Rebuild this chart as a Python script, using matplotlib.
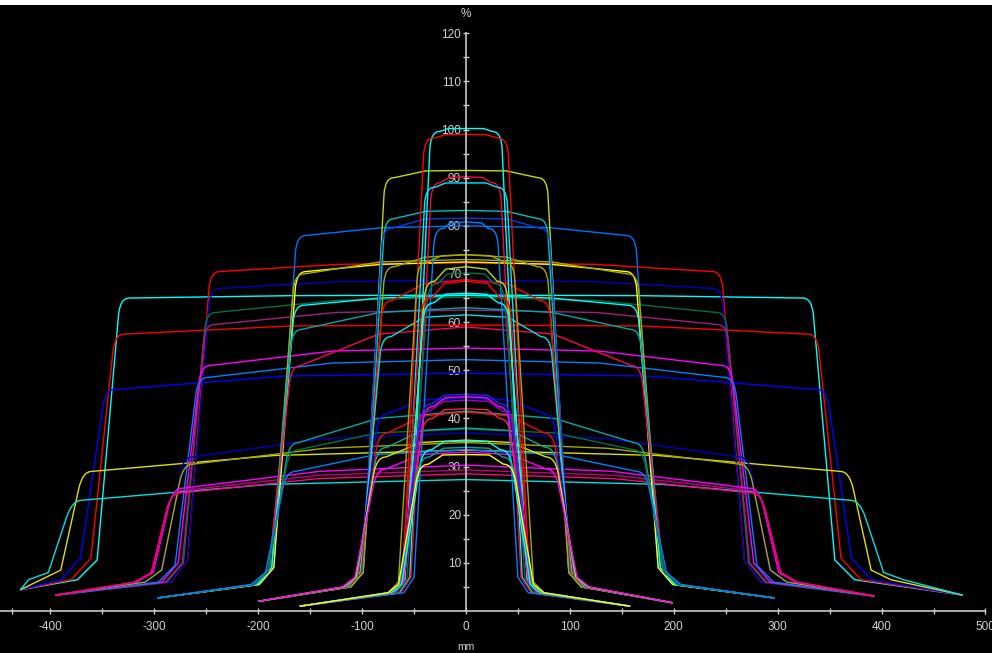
import matplotlib
matplotlib.use("Agg")
import matplotlib.pyplot as plt
from matplotlib.path import Path
from matplotlib.patches import PathPatch, Rectangle

plt.rcParams['axes.unicode_minus'] = False

# one row per profile:
# colour, centre %, % at half the corner width, % just inside the corner,
# corner half-width (mm), knee half-width (mm), knee %
field_a = [
    ("#00ffff", 100.2, 100.2, 99.6, 34, 54, 7.0),
    ("#ff0000", 99.0, 98.9, 98.2, 40, 61, 6.5),
    ("#ff0040", 90.2, 90.0, 89.0, 33, 53, 7.0),
    ("#00e8ff", 88.9, 88.9, 88.0, 39, 59, 6.5),
    ("#0080ff", 80.8, 80.6, 79.5, 30, 50, 7.0),
    ("#a8a800", 74.0, 73.8, 72.5, 46, 65, 6.0),
    ("#b0e000", 71.5, 71.0, 68.5, 39, 59, 6.5),
    ("#007040", 70.2, 70.0, 68.0, 36, 57, 6.5),
    ("#ff0000", 68.5, 68.0, 65.0, 42, 62, 6.5),
    ("#00ffff", 66.0, 65.8, 64.0, 40, 60, 6.5),
    ("#2020ff", 45.0, 44.8, 43.0, 42, 62, 6.0),
    ("#ff00ff", 44.5, 44.3, 42.5, 40, 60, 6.0),
    ("#a000c0", 43.8, 43.5, 41.5, 44, 63, 6.0),
    ("#ff2040", 42.0, 41.8, 40.0, 41, 61, 6.0),
    ("#00ffff", 35.3, 35.2, 33.5, 42, 62, 5.5),
    ("#00a8a8", 34.0, 33.8, 32.0, 44, 64, 5.5),
    ("#ffff00", 32.5, 32.4, 30.5, 45, 65, 5.5),
]

field_b = [
    ("#c8d800", 91.5, 91.4, 90.0, 78, 99, 8.0),
    ("#00c0c0", 83.2, 83.0, 81.5, 78, 99, 8.0),
    ("#0040e0", 81.6, 81.4, 79.5, 80, 100, 8.0),
    ("#a8a800", 74.0, 73.5, 71.5, 78, 99, 8.0),
    ("#ff0000", 68.8, 68.0, 64.5, 80, 101, 8.0),
    ("#00e0e0", 61.5, 61.0, 57.0, 81, 102, 8.0),
    ("#0000ff", 44.3, 43.8, 41.0, 84, 104, 7.5),
    ("#ff0000", 41.3, 40.5, 37.0, 84, 104, 7.5),
    ("#00a8a8", 38.0, 37.5, 34.0, 85, 105, 7.0),
    ("#e0e000", 35.5, 35.0, 32.0, 86, 106, 7.0),
    ("#ff00ff", 33.0, 32.5, 29.5, 86, 107, 7.0),
]

field_c = [
    ("#0070ff", 80.0, 79.6, 78.0, 163, 185, 9.0),
    ("#ffff00", 72.5, 72.0, 70.5, 163, 185, 9.0),
    ("#a8a800", 73.0, 72.5, 70.0, 165, 187, 9.0),
    ("#00ffff", 65.6, 65.0, 63.5, 165, 187, 9.0),
    ("#00a8a8", 63.0, 62.0, 58.5, 167, 189, 9.0),
    ("#ff0050", 59.0, 57.5, 51.0, 168, 190, 8.5),
    ("#00a8a8", 41.5, 40.0, 35.0, 170, 191, 8.0),
    ("#007040", 37.8, 37.0, 33.5, 170, 191, 8.0),
    ("#0080ff", 33.5, 32.5, 29.0, 173, 193, 8.0),
]

field_d = [
    ("#ff0000", 72.3, 72.0, 70.5, 246, 268, 10.5),
    ("#0000c0", 68.7, 68.4, 67.0, 246, 268, 10.5),
    ("#007040", 65.2, 64.5, 62.0, 250, 272, 10.0),
    ("#a0207f", 62.5, 62.0, 59.5, 251, 273, 10.0),
    ("#ff00ff", 54.6, 54.0, 51.0, 255, 277, 10.0),
    ("#0080ff", 52.2, 51.5, 48.5, 258, 280, 9.5),
    ("#0000c0", 37.0, 35.8, 32.0, 272, 292, 8.5),
    ("#a8a800", 35.0, 33.8, 30.5, 272, 293, 8.5),
    ("#ff00ff", 30.3, 29.0, 25.5, 282, 301, 8.0),
    ("#c00080", 29.3, 28.2, 25.0, 283, 302, 8.0),
    ("#ff0080", 28.5, 27.5, 24.5, 284, 303, 8.0),
]

field_e = [
    ("#00ffff", 65.6, 65.5, 65.0, 333, 355, 10.6),
    ("#ff0000", 59.4, 59.2, 57.5, 338, 361, 11.0),
    ("#0000ff", 49.4, 48.8, 46.0, 347, 371, 11.0),
    ("#e0e000", 33.4, 32.3, 29.0, 369, 390, 8.5),
    ("#00e0e0", 27.3, 26.3, 23.0, 379, 402, 8.0),
]

# tail of each field: left end mm, right end mm, left end %, right end %,
# mm past the knee where the tail bends, % there
tails = {
    "a": (-160, 158, 1.0, 1.0, 10, 3.8),
    "b": (-200, 199, 2.0, 1.7, 12, 5.0),
    "c": (-297, 297, 2.7, 2.7, 14, 5.5),
    "d": (-395, 393, 3.3, 3.1, 16, 6.0),
    "e": (-429, 478, 4.4, 3.3, 19, 6.5),
}

x_ticks = [-400, -300, -200, -100, 0, 100, 200, 300, 400, 500]
y_ticks = [10, 20, 30, 40, 50, 60, 70, 80, 90, 100, 110, 120]


def profile_path(row, tail):
    color, yc, ym, ys, xs, xk, yk = row
    xl_end, xr_end, yl_end, yr_end, tdx, ty = tail
    # small rounding of the shoulder
    ry = 3.5
    ex = xs + (xk - xs) * ry / (ys - yk)
    px = xs - 9
    L, C = Path.LINETO, Path.CURVE3
    verts = [(xl_end, yl_end), (-(xk + tdx), ty), (-xk, yk), (-ex, ys - ry),
             (-xs, ys), (-px, ys), (-xs / 2, ym), (0, yc),
             (xs / 2, ym), (px, ys), (xs, ys), (ex, ys - ry), (xk, yk),
             (xk + tdx, ty), (xr_end, yr_end)]
    codes = [Path.MOVETO, L, L, L, C, C, L, L, L, L, C, C, L, L, L]
    return Path(verts, codes), color


fig = plt.figure(figsize=(9.92, 6.53), dpi=100, facecolor="black")
ax = fig.add_axes([0, 0, 1, 648 / 653])
ax.set_facecolor("black")
ax.set_xlim(-448.5, 506.3)
ax.set_ylim(-8.72, 125.86)

for key, field in [("e", field_e), ("d", field_d), ("c", field_c), ("b", field_b), ("a", field_a)]:
    for row in field:
        path, color = profile_path(row, tails[key])
        ax.add_patch(PathPatch(path, fill=False, edgecolor=color, lw=1.0, zorder=2))

# axes through the origin
axis_col = "#c8c8c8"
for s in ["top", "right"]:
    ax.spines[s].set_visible(False)
ax.spines["left"].set_position(("data", 0))
ax.spines["bottom"].set_position(("data", 0))
ax.spines["left"].set_bounds(0, 120)
ax.spines["bottom"].set_bounds(-450, 500)
for s in ["left", "bottom"]:
    ax.spines[s].set_color(axis_col)
    ax.spines[s].set_linewidth(1.2)
    ax.spines[s].set_zorder(3)

font = ["Liberation Sans", "DejaVu Sans"]
ax.set_xticks(x_ticks)
ax.set_xticklabels([str(v) for v in x_ticks], family=font, fontsize=8.5)
ax.set_xticks([-437] + list(range(-350, 451, 100)), minor=True)
ax.set_yticks(y_ticks)
ax.set_yticklabels([str(v) for v in y_ticks], family=font, fontsize=8.5)
ax.set_yticks(list(range(5, 116, 10)), minor=True)
ax.tick_params(axis="both", which="both", direction="inout", length=4, width=1,
               colors=axis_col, labelcolor="#d0d0d0")
ax.tick_params(axis="x", which="both", pad=5)
ax.tick_params(axis="y", which="both", pad=1.5)

ax.text(0, 124, "%", color="#d0d0d0", ha="center", va="center", family=font, fontsize=8.5)
ax.text(0, -7.4, "mm", color="#d0d0d0", ha="center", va="center", family=font, fontsize=7.5)

# white strip along the top of the screenshot
fig.add_artist(Rectangle((0, 648 / 653), 1, 5 / 653, transform=fig.transFigure,
                         facecolor="white", edgecolor="none"))

fig.savefig("out.png", dpi=100, facecolor="black")
